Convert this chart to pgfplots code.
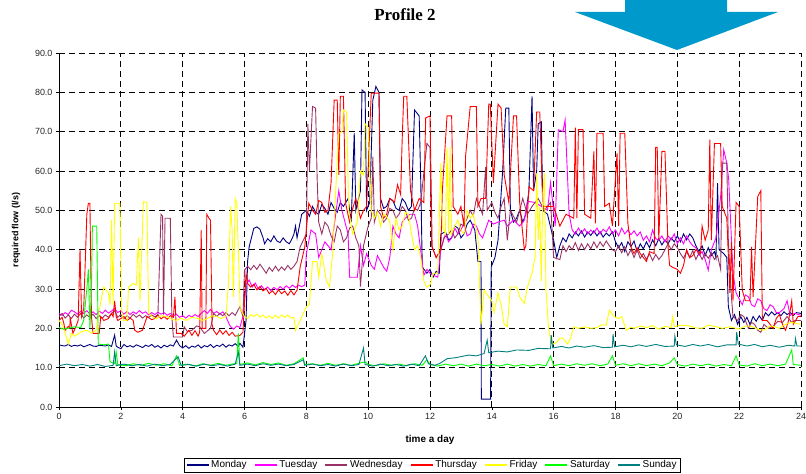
\documentclass[border=0pt]{standalone}
\usepackage{fontspec}
\setmainfont{Liberation Sans}
\newfontfamily\titlefont{Liberation Serif}
\usepackage{pgfplots}
\pgfplotsset{compat=1.18}
\definecolor{cMon}{RGB}{0,0,128}
\definecolor{cTue}{RGB}{255,0,255}
\definecolor{cWed}{RGB}{153,51,102}
\definecolor{cThu}{RGB}{255,0,0}
\definecolor{cFri}{RGB}{255,255,0}
\definecolor{cSat}{RGB}{0,255,0}
\definecolor{cSun}{RGB}{0,128,128}
\definecolor{arrowblue}{RGB}{0,153,204}
\pgfplotsset{
  daylegend/.style={legend image code/.code={\draw[draw=#1, line width=1.3pt] (0bp,0bp) -- (22bp,0bp);}},
}
\begin{document}
\begin{tikzpicture}
\path[use as bounding box] (0bp,0bp) rectangle (806bp,474bp);
\fill[arrowblue] (625bp,474bp) -- (625bp,462bp) -- (575bp,462bp) -- (677bp,424bp) -- (778bp,462bp) -- (727bp,462bp) -- (727bp,474bp) -- cycle;
\node[anchor=base,font=\titlefont\bfseries\fontsize{17}{20}\selectfont] at (405bp,453bp) {Profile 2};
\begin{axis}[
  at={(59bp,67bp)}, anchor=south west,
  width=742bp, height=354bp, scale only axis,
  xmin=0, xmax=24, ymin=0, ymax=90,
  xtick={0,2,...,24}, ytick={0,10,...,90},
  axis x line*=bottom, axis y line*=left,
  axis line style={-, black, line width=0.8pt},
  tick align=outside, major tick length=3bp,
  tick style={black, line width=0.6pt},
  grid=major,
  grid style={black, line width=0.7pt, dash pattern=on 6bp off 4bp},
  /pgf/number format/assume math mode=true,
  ticklabel style={font=\fontsize{9}{11}\selectfont, color=black!85},
  yticklabel style={/pgf/number format/.cd, fixed, fixed zerofill, precision=1},
  xticklabel style={/pgf/number format/.cd, fixed, precision=0},
  xlabel={time a day},
  ylabel={required flow (l/s)},
  xlabel style={font=\bfseries\fontsize{10}{12}\selectfont, at={(axis description cs:0.5,-0.093)}, anchor=center},
  ylabel style={font=\bfseries\fontsize{9}{11}\selectfont, at={(axis description cs:-0.058,0.5)}, anchor=center},
  legend columns=7,
  legend style={at={(axis description cs:0.503,-0.164)}, anchor=center,
    font=\fontsize{10}{12}\selectfont, inner xsep=2bp, inner ysep=1bp,
    /tikz/every even column/.append style={column sep=5.5bp}},
  every axis plot/.append style={line width=0.9pt},
]
% Monday
\addplot[color=cMon, daylegend=cMon] coordinates {(0,15.8) (0.1,15.6) (0.2,15.5) (0.3,15.9) (0.4,15.4) (0.5,15.7) (0.6,15.5) (0.7,15.8) (0.8,15.3) (0.9,15.6) (1.0,15.9) (1.1,15.5) (1.2,15.4) (1.3,15.7) (1.4,15.6) (1.5,15.5) (1.6,15.8) (1.7,15.4) (1.8,18.3) (1.85,15.5) (1.9,15.2) (2.0,14.8) (2.1,15.9) (2.2,15.3) (2.3,15.6) (2.4,15.2) (2.5,15.8) (2.6,15.5) (2.7,15.1) (2.8,15.7) (2.9,15.4) (3.0,15.9) (3.1,15.2) (3.2,15.6) (3.3,15.0) (3.4,15.7) (3.5,15.3) (3.6,15.8) (3.7,15.5) (3.8,17.0) (3.9,15.6) (4.0,15.0) (4.1,15.6) (4.2,14.9) (4.3,15.5) (4.4,15.2) (4.5,15.8) (4.6,15.0) (4.7,15.6) (4.8,15.3) (4.9,15.9) (5.0,15.1) (5.1,15.7) (5.2,15.4) (5.3,16.0) (5.4,15.2) (5.5,15.8) (5.6,15.5) (5.7,16.1) (5.8,15.4) (5.85,16.2) (5.95,15.2) (6.05,22) (6.1,37) (6.15,40.7) (6.3,45.4) (6.4,45.8) (6.5,45.2) (6.6,43) (6.65,41.5) (6.75,42.8) (6.85,42) (6.95,43.5) (7.05,42.2) (7.15,41.8) (7.25,43) (7.35,42) (7.45,41.5) (7.55,43) (7.6,44) (7.65,46) (7.7,43) (7.8,47) (7.85,49) (8.0,50) (8.1,48.5) (8.2,51) (8.3,49.5) (8.4,49) (8.5,51.5) (8.6,50.5) (8.7,49) (8.8,52) (8.9,50.5) (9.0,49.5) (9.1,52) (9.2,51) (9.35,53) (9.45,47) (9.55,69.6) (9.6,50) (9.75,55) (9.8,80.6) (9.9,80) (9.95,50) (10.05,52) (10.15,78) (10.25,81.5) (10.35,80) (10.4,53) (10.5,50.5) (10.6,51) (10.7,53) (10.8,52.5) (10.9,50.5) (11.0,50) (11.1,53) (11.2,52) (11.3,50) (11.4,51) (11.5,75.5) (11.65,74) (11.7,57.7) (11.75,35.6) (11.9,34) (12.0,35) (12.1,33) (12.2,34.5) (12.3,34) (12.35,44) (12.5,44.5) (12.6,42.5) (12.7,43) (12.8,46) (12.9,45.5) (13.0,43) (13.1,44) (13.2,46.5) (13.3,47.5) (13.45,45) (13.55,37) (13.65,37) (13.66,2) (13.96,2) (13.98,35.6) (14.1,38) (14.2,42.4) (14.35,60) (14.45,76) (14.55,76) (14.6,50) (14.7,47) (14.8,48) (14.9,50) (15.0,47) (15.1,49) (15.2,55) (15.3,79) (15.35,55) (15.45,60) (15.5,72) (15.6,72.5) (15.65,50) (15.8,49) (16.0,42.4) (16.1,38) (16.2,41) (16.3,43) (16.4,42) (16.5,44) (16.6,43) (16.7,44.5) (16.8,43.5) (16.9,44.8) (17.0,43.2) (17.1,44.5) (17.2,43.6) (17.3,44.8) (17.4,43.5) (17.5,44.6) (17.6,43.2) (17.7,44.2) (17.8,43.5) (17.9,44.5) (18.0,42) (18.1,40.5) (18.2,41.8) (18.3,39.5) (18.4,42) (18.5,40.8) (18.6,42.2) (18.7,39.5) (18.8,41.5) (18.9,40.2) (19.0,42) (19.1,40.5) (19.2,42.5) (19.3,41) (19.4,42.8) (19.5,41.2) (19.6,42.5) (19.7,41.5) (19.8,43) (19.9,42) (20.0,43.5) (20.1,42) (20.2,44) (20.3,42.5) (20.4,44) (20.5,43) (20.6,41) (20.7,39.5) (20.8,41) (20.9,38.5) (21.0,40.5) (21.1,38.5) (21.2,39.5) (21.25,38) (21.3,56.9) (21.35,40) (21.5,39) (21.6,38) (21.65,25.5) (21.75,22) (21.85,23.5) (21.95,21) (22.05,23) (22.15,21.5) (22.25,22.8) (22.35,21) (22.45,23) (22.55,21.8) (22.65,23.2) (22.75,22) (22.85,24) (22.95,23.2) (23.05,24.2) (23.15,23.4) (23.25,24) (23.35,23.2) (23.45,24.2) (23.55,23.5) (23.65,24) (23.75,23.3) (23.85,24) (24,23.8)};
\addlegendentry{Monday}
% Tuesday
\addplot[color=cTue, daylegend=cTue] coordinates {(0,23.8) (0.1,23.3) (0.2,24) (0.3,23.5) (0.4,24.6) (0.5,24.2) (0.6,23.6) (0.7,24.3) (0.8,23.8) (0.9,24.5) (1.0,23.6) (1.1,24.2) (1.2,23.5) (1.3,24.4) (1.4,23.8) (1.5,24.6) (1.6,23.9) (1.7,24.4) (1.8,25) (1.9,24) (2.0,24.5) (2.1,23.6) (2.2,24.3) (2.3,23.5) (2.4,24.2) (2.5,23.7) (2.6,24.5) (2.7,23.8) (2.8,24.2) (2.9,23.4) (3.0,24) (3.1,23.5) (3.2,24.1) (3.3,23.6) (3.4,24) (3.5,23.3) (3.6,23.8) (3.7,23.2) (3.8,23.6) (3.9,22.8) (4.0,23.2) (4.1,22.6) (4.2,23.3) (4.3,22.9) (4.4,23.5) (4.5,23) (4.6,23.8) (4.7,24.5) (4.8,23.8) (4.9,24.8) (5.0,23.8) (5.1,24.3) (5.2,23.6) (5.3,24.2) (5.4,23) (5.45,22) (5.55,20.4) (5.65,19.8) (5.75,20.6) (5.85,20.2) (5.95,23) (6.05,31) (6.15,32.3) (6.25,30.5) (6.35,31.5) (6.45,30) (6.55,30.8) (6.65,29.8) (6.75,30.5) (6.85,29.6) (6.95,30.4) (7.05,29.8) (7.15,30.6) (7.25,30) (7.35,30.8) (7.45,30.2) (7.55,31) (7.65,30.4) (7.75,31) (7.85,30.6) (7.95,31) (8.0,39) (8.15,45) (8.3,44) (8.4,38) (8.6,42) (8.8,40) (8.95,49) (9.05,55) (9.15,50) (9.35,44) (9.4,33) (9.65,33) (9.75,41) (9.85,36) (9.95,39) (10.0,38) (10.1,36) (10.2,35) (10.3,38.5) (10.4,37) (10.5,35.5) (10.6,34.5) (10.7,38) (10.8,46) (10.9,44) (11.0,43) (11.1,47) (11.2,48) (11.35,49) (11.5,49) (11.6,46) (11.8,33.5) (11.9,35) (12.0,34) (12.1,33.5) (12.25,33) (12.35,40) (12.5,44) (12.6,42) (12.7,43) (12.8,45.5) (12.9,44) (13.0,45) (13.1,46.7) (13.2,43.5) (13.3,44) (13.4,46.5) (13.5,46) (13.6,44) (13.7,43) (13.9,47.5) (14.05,46.5) (14.2,47) (14.4,47.5) (14.5,46) (14.7,47.5) (14.9,46) (15.05,47.5) (15.15,52.3) (15.4,52) (15.6,51) (15.8,50) (15.9,57) (16.05,46) (16.15,70.5) (16.3,70) (16.37,73) (16.5,49) (16.6,45) (16.7,44) (16.8,45.5) (16.9,44.2) (17.0,45.3) (17.1,44) (17.2,45) (17.3,44.2) (17.4,45.5) (17.5,44) (17.6,45.2) (17.7,44.5) (17.8,45.8) (17.9,44) (18.0,45) (18.1,43.5) (18.2,45.5) (18.3,44) (18.4,45) (18.5,43.8) (18.6,44.8) (18.7,43.5) (18.8,44.5) (18.9,42.4) (19.0,43.5) (19.1,42) (19.2,45) (19.3,42.8) (19.4,42.4) (19.5,43.5) (19.6,42) (19.7,43.5) (19.8,42.5) (19.9,44) (20.0,41.5) (20.1,43) (20.2,41.5) (20.3,43.5) (20.4,42) (20.5,41) (20.6,40.5) (20.7,38.5) (20.8,39.5) (20.9,37.5) (21.0,34.8) (21.1,40) (21.25,43) (21.4,53.5) (21.5,65.4) (21.6,62) (21.66,58) (21.8,34) (21.9,29) (22.0,27.5) (22.1,26) (22.2,28.5) (22.3,28) (22.4,26) (22.5,25.5) (22.6,27.5) (22.7,27) (22.8,25) (22.9,24.5) (23.0,26) (23.1,25.5) (23.2,24) (23.3,24) (23.45,25) (23.55,27) (23.65,23.3) (23.8,23.8) (24,23.3)};
\addlegendentry{Tuesday}
% Wednesday
\addplot[color=cWed, daylegend=cWed] coordinates {(0,23) (0.1,23.8) (0.2,22.6) (0.3,23.4) (0.4,22.5) (0.5,23.6) (0.6,22.8) (0.7,23.8) (0.8,22.6) (0.9,23.4) (1.0,22.8) (1.1,23.6) (1.2,22.5) (1.3,23.2) (1.4,22.6) (1.5,23.4) (1.6,22.8) (1.7,23.8) (1.8,24.5) (1.9,22.8) (2.0,23.5) (2.1,22.4) (2.2,23.2) (2.3,22.6) (2.4,23.6) (2.5,22.8) (2.6,23.4) (2.7,22.6) (2.8,23.2) (2.9,22.8) (3.0,23.4) (3.1,22.9) (3.2,23.5) (3.3,49) (3.35,48.5) (3.38,23.5) (3.43,48) (3.6,48) (3.65,23) (3.7,17.8) (4.0,17.8) (4.05,20.4) (4.15,19.2) (4.3,19.5) (4.45,20.6) (4.55,20.4) (4.7,18.7) (4.9,20) (5.0,23.8) (5.1,23) (5.2,23.8) (5.3,23.2) (5.4,24) (5.5,23.2) (5.6,24) (5.7,23.3) (5.85,25.5) (5.95,23) (6.0,34.8) (6.1,35.8) (6.2,34.9) (6.3,36) (6.4,35) (6.5,36.3) (6.6,35.2) (6.7,34) (6.8,35.5) (6.9,34.5) (7.0,35.8) (7.1,34.6) (7.2,35.6) (7.3,34.8) (7.4,36) (7.5,35) (7.6,35.8) (7.7,37) (7.8,40.7) (8.0,44) (8.05,72) (8.1,60) (8.2,76.4) (8.3,76) (8.35,58) (8.4,47) (8.5,44) (8.6,47) (8.7,46) (8.8,43.5) (8.9,42) (9.0,46) (9.1,45) (9.2,42) (9.3,43) (9.4,45.5) (9.5,46) (9.6,43) (9.7,41) (9.75,30.6) (9.85,41) (10.0,46) (10.1,48) (10.15,63.6) (10.2,47) (10.3,50) (10.4,49) (10.5,47) (10.6,48) (10.7,50.5) (10.8,50) (10.9,48) (11.0,49) (11.1,51) (11.2,50) (11.3,47.5) (11.4,48) (11.5,50.5) (11.6,50) (11.7,52) (11.9,67) (12.0,66) (12.05,41) (12.2,38) (12.35,40) (12.45,43) (12.6,44) (12.7,45) (12.8,43) (12.9,44) (13.0,46.5) (13.1,46) (13.2,48) (13.3,50) (13.4,48.5) (13.5,53) (13.6,51) (13.7,49) (13.8,61) (13.85,50) (14.0,52) (14.1,49.5) (14.2,48) (14.3,51) (14.4,53) (14.5,42.4) (14.6,50) (14.7,48.5) (14.8,47) (14.9,50) (15.0,53) (15.15,49) (15.3,51) (15.5,53) (15.7,50) (15.9,52) (16.0,38) (16.2,37.5) (16.3,41) (16.4,39.5) (16.5,41) (16.6,40) (16.7,41.8) (16.8,39.8) (16.9,41.5) (17.0,40) (17.1,41.5) (17.2,40.2) (17.3,42) (17.4,40.5) (17.5,42) (17.6,40.8) (17.7,42.2) (17.8,41) (17.9,40) (18.0,39.5) (18.1,41) (18.2,39.2) (18.3,40.8) (18.4,38.5) (18.5,40) (18.6,38) (18.7,40) (18.8,37.8) (18.9,39) (19.0,37.5) (19.1,39) (19.2,37.2) (19.3,38.8) (19.4,37.5) (19.5,38.5) (19.6,40) (19.7,41.5) (19.8,40) (19.9,41.5) (20.0,40.5) (20.1,39) (20.2,37.8) (20.3,39.5) (20.4,38) (20.5,39.8) (20.6,37.5) (20.7,39.2) (20.8,37.5) (20.9,39) (21.0,37.8) (21.1,39.2) (21.2,37.5) (21.3,38.5) (21.4,35) (21.45,62) (21.6,62) (21.65,42) (21.75,28) (21.8,23) (21.95,22) (22.05,23.5) (22.15,23) (22.3,20) (22.4,21.5) (22.5,21) (22.6,19.5) (22.7,19) (22.8,21) (22.95,20) (23.1,20.5) (23.25,21.8) (23.4,21.5) (23.55,23) (23.7,21.5) (23.8,22) (24,22)};
\addlegendentry{Wednesday}
% Thursday
\addplot[color=cThu, daylegend=cThu] coordinates {(0,22) (0.1,22.8) (0.15,21.5) (0.2,19.5) (0.3,20.5) (0.35,20) (0.36,22.8) (0.45,18.7) (0.55,20.5) (0.62,22) (0.68,40) (0.73,23) (0.8,25) (0.9,49) (0.95,51.8) (1.0,51.8) (1.05,23) (1.1,18.7) (1.3,18.7) (1.35,23) (1.45,22) (1.6,22.5) (1.7,23.8) (1.75,23) (1.8,27) (1.85,23) (1.9,22) (2.0,22.5) (2.1,23) (2.2,22) (2.3,22.6) (2.4,22) (2.45,19.5) (2.55,19) (2.7,19.5) (2.85,23) (3.0,22.2) (3.1,22.5) (3.2,23.4) (3.3,22.4) (3.4,23) (3.5,22.3) (3.6,23.2) (3.7,22.8) (3.75,28) (3.8,18.7) (3.95,18.7) (4.05,18) (4.2,19.5) (4.3,18.2) (4.4,19.4) (4.5,18) (4.55,19) (4.6,45) (4.63,20) (4.75,20) (4.78,49) (4.85,48) (4.9,47.5) (4.95,21) (5.0,19.5) (5.1,18.4) (5.2,19.6) (5.3,18.5) (5.4,19.4) (5.5,18.2) (5.6,19) (5.7,18) (5.85,18.2) (5.95,19) (6.05,34) (6.1,31.4) (6.2,30.5) (6.3,31.2) (6.4,29.8) (6.5,30.6) (6.6,29.5) (6.7,30.2) (6.8,28.8) (6.9,29.6) (7.0,28.6) (7.1,29.8) (7.2,28.8) (7.3,29.5) (7.4,28.4) (7.5,29.6) (7.6,28.5) (7.7,29.7) (7.8,35.6) (7.95,40.7) (8.08,51.8) (8.2,50) (8.3,49) (8.4,52.5) (8.5,52) (8.6,49.5) (8.7,50) (8.8,57) (8.9,78) (9.0,78) (9.05,59) (9.1,79) (9.2,79) (9.27,51.8) (9.4,47) (9.5,50.5) (9.6,53) (9.75,48) (9.85,50) (9.95,51) (10.1,79.8) (10.35,79.8) (10.4,51) (10.5,48) (10.6,49) (10.7,53) (10.85,52) (10.95,56.5) (11.05,54) (11.1,68) (11.15,79) (11.25,79) (11.37,55) (11.5,50) (11.65,53) (11.8,52) (11.86,73.5) (12.0,74) (12.07,40.7) (12.2,38) (12.35,40) (12.4,55) (12.55,74) (12.7,74) (12.75,51) (12.9,49) (13.0,51) (13.1,46) (13.15,63.7) (13.3,76.4) (13.5,76.4) (13.55,51) (13.65,53) (13.8,53) (13.9,77) (13.95,77) (14.05,57) (14.2,77) (14.3,76) (14.4,59) (14.55,52) (14.7,74) (14.8,74) (14.9,52) (15.05,40) (15.1,41) (15.2,56) (15.35,55) (15.45,75) (15.55,75) (15.65,51) (15.9,51) (16.0,51) (16.2,46) (16.4,49) (16.65,48) (16.7,71) (16.75,48) (16.8,70.5) (16.95,70.5) (17.0,49) (17.2,48) (17.3,65) (17.35,46.7) (17.4,69.6) (17.6,69.6) (17.65,51) (17.8,51.8) (17.9,46) (18.05,64.5) (18.1,46) (18.15,69.6) (18.3,69.6) (18.4,46.7) (18.5,40.7) (18.6,39) (18.7,40.5) (18.8,39) (18.9,38) (19.0,37) (19.1,39.5) (19.25,39) (19.3,66) (19.35,66) (19.4,42.4) (19.5,65) (19.6,65) (19.7,40.7) (19.75,36) (19.85,35.5) (20.0,35) (20.1,34) (20.2,36) (20.3,40) (20.4,38) (20.5,38.5) (20.6,40) (20.75,39) (20.8,46) (20.9,42.4) (21.0,45) (21.05,68) (21.1,42.4) (21.2,67) (21.4,67) (21.45,51) (21.6,48) (21.7,29) (21.75,42) (21.8,27) (21.9,52) (22.0,51) (22.1,29.7) (22.2,27) (22.35,27) (22.4,40.7) (22.45,28) (22.6,53.5) (22.7,55) (22.75,22) (22.9,22) (23.0,21) (23.1,20) (23.2,22.5) (23.3,23.5) (23.4,21) (23.5,19.5) (23.6,22) (23.7,27) (23.75,21) (23.9,23) (24,23)};
\addlegendentry{Thursday}
% Friday
\addplot[color=cFri, daylegend=cFri] coordinates {(0,22) (0.1,21) (0.2,18.7) (0.3,16) (0.4,18.7) (0.5,18) (0.6,18.5) (0.75,19.2) (0.9,19.5) (1.05,18.8) (1.2,19.5) (1.3,24.6) (1.45,30.5) (1.6,29) (1.65,26) (1.7,47.5) (1.75,26) (1.8,51.8) (1.97,51.8) (2.02,25) (2.08,22) (2.2,22) (2.25,30.5) (2.4,31.4) (2.5,31) (2.57,43) (2.62,27) (2.73,52.2) (2.84,52) (2.9,24) (3.0,23) (3.15,22.4) (3.3,23.2) (3.5,23) (3.65,22.3) (3.8,22) (3.95,22.6) (4.1,22) (4.3,22.8) (4.5,22.5) (4.65,22) (4.8,22.5) (4.95,23.2) (5.1,23) (5.25,22.5) (5.4,23) (5.48,31.4) (5.55,51) (5.6,45) (5.64,28) (5.7,53) (5.75,52) (5.8,40) (5.86,25) (6.0,23) (6.1,22.5) (6.2,23.5) (6.3,23) (6.4,23.6) (6.5,22.8) (6.6,23.4) (6.7,22.6) (6.8,23.2) (6.9,22.5) (7.0,23.3) (7.1,22.6) (7.2,23.4) (7.3,22.8) (7.4,23.4) (7.5,22.6) (7.6,22.8) (7.65,19.5) (7.8,22) (8.0,25.5) (8.1,26) (8.2,37) (8.35,37) (8.4,33) (8.5,39) (8.65,32) (8.75,30.6) (8.85,39) (8.95,55) (9.05,69.6) (9.15,70) (9.2,75.5) (9.3,75) (9.37,50) (9.5,44) (9.65,47) (9.75,60) (9.85,59) (9.9,72) (10.0,71) (10.1,50) (10.2,48) (10.3,49.5) (10.4,46) (10.5,49) (10.6,48.5) (10.7,47) (10.8,40) (10.9,48) (11.0,45) (11.1,46) (11.2,49.5) (11.3,49) (11.4,44) (11.5,40) (11.6,41) (11.7,38) (11.8,32) (11.9,30.5) (12.0,31) (12.1,34) (12.25,34) (12.35,62) (12.4,46) (12.5,44) (12.55,66) (12.6,44) (12.65,66) (12.7,44) (12.8,46) (12.9,47.5) (13.0,45) (13.1,44) (13.2,50) (13.3,48) (13.4,49) (13.55,43) (13.65,21) (13.75,29.7) (13.9,28) (14.0,27) (14.07,24) (14.2,29) (14.3,26) (14.4,21) (14.5,20.4) (14.6,30.5) (14.8,30.5) (14.9,28) (15.05,26.3) (15.15,30.5) (15.3,34) (15.4,38.2) (15.45,59.4) (15.5,42.4) (15.55,51) (15.6,32) (15.65,54.3) (15.7,59.4) (15.75,30) (15.83,20.4) (15.9,17) (16.0,16) (16.1,16.5) (16.2,17.5) (16.3,17.5) (16.45,16) (16.55,17.5) (16.65,20.4) (16.8,20) (17.0,20.4) (17.2,20) (17.4,20.2) (17.55,20.9) (17.7,20.8) (17.8,24.6) (17.95,23) (18.1,22.5) (18.2,23) (18.35,19.5) (18.5,20.3) (18.6,20) (18.8,20.6) (19.0,20.2) (19.2,20.7) (19.4,19.8) (19.6,20.5) (19.8,20.2) (19.85,23) (19.9,20.4) (20.1,20.8) (20.4,20.6) (20.6,20.1) (20.8,20) (21.0,20.8) (21.2,20.5) (21.45,20) (21.7,20.4) (22.0,19.8) (22.2,20.6) (22.4,20.5) (22.6,19.8) (22.8,19.5) (23.0,20.6) (23.1,20.5) (23.3,20) (23.5,21) (23.7,21.5) (24,21)};
\addlegendentry{Friday}
% Saturday
\addplot[color=cSat, daylegend=cSat] coordinates {(0,20.2) (0.15,19.8) (0.3,20) (0.5,20.4) (0.7,20.2) (0.8,22) (0.9,30) (0.95,35) (1.0,20) (1.05,30) (1.08,46) (1.22,46) (1.27,16) (1.45,15.8) (1.6,16) (1.65,11.5) (1.8,11) (1.85,14) (1.9,10.8) (2.15,10.5) (2.4,11) (2.65,10.6) (2.9,11.1) (3.15,10.6) (3.4,11) (3.65,10.5) (3.8,13) (3.9,10.6) (4.15,10.9) (4.4,10.4) (4.65,11) (4.9,10.6) (5.15,11.1) (5.4,10.6) (5.65,11) (5.75,11) (5.8,18.7) (5.85,10.8) (6.1,11.2) (6.35,10.7) (6.6,11.3) (6.85,10.8) (7.1,11.2) (7.35,10.6) (7.6,11) (7.9,12.5) (7.95,10.8) (8.2,11) (8.45,10.6) (8.7,11.1) (8.95,10.6) (9.2,11) (9.45,10.6) (9.7,11.1) (9.9,11.5) (10.0,10.8) (10.25,10.5) (10.5,11) (10.75,10.6) (11.0,10.9) (11.25,10.5) (11.5,11) (11.75,10.6) (11.9,12) (12.0,10.8) (12.25,10.4) (12.5,10.9) (12.75,10.5) (13.0,10.9) (13.25,10.4) (13.5,10.9) (13.75,10.5) (14.0,10.8) (14.25,10.4) (14.5,10.9) (14.75,10.4) (15.0,10.8) (15.25,10.4) (15.5,10.8) (15.75,10.5) (15.9,13) (16.0,10.5) (16.25,10.9) (16.5,10.5) (16.75,11) (17.0,10.6) (17.25,11) (17.5,10.5) (17.75,10.9) (17.9,13) (18.0,10.6) (18.25,11) (18.5,10.5) (18.75,11) (19.0,10.5) (19.25,10.9) (19.5,10.5) (19.75,11.2) (19.9,12.5) (20.0,10.8) (20.25,10.4) (20.5,10.9) (20.75,10.5) (21.0,10.9) (21.25,10.4) (21.5,10.8) (21.75,10.5) (21.9,13) (22.0,10.7) (22.25,10.4) (22.5,11) (22.75,10.5) (23.0,10.9) (23.25,10.5) (23.5,10.9) (23.7,14.5) (23.75,10.8) (24,10.6)};
\addlegendentry{Saturday}
% Sunday
\addplot[color=cSun, daylegend=cSun] coordinates {(0,10.5) (0.25,10.9) (0.5,10.5) (0.75,10.8) (1.0,10.4) (1.25,10.8) (1.5,10.3) (1.75,10.6) (1.8,14) (1.85,10.5) (2.1,10.9) (2.35,10.5) (2.6,10.8) (2.85,10.4) (3.1,10.9) (3.35,10.5) (3.6,10.8) (3.85,12.8) (3.95,10.6) (4.2,10.8) (4.45,10.4) (4.7,10.9) (4.95,10.5) (5.2,10.8) (5.45,10.4) (5.7,10.9) (5.8,14) (5.85,10.6) (6.1,10.9) (6.35,10.5) (6.6,11) (6.85,10.6) (7.1,10.9) (7.35,10.5) (7.6,10.8) (7.9,12) (7.95,10.6) (8.2,10.9) (8.45,10.5) (8.7,10.8) (8.95,10.4) (9.2,10.9) (9.45,10.5) (9.7,10.8) (9.85,15) (9.9,10.8) (10.15,10.4) (10.4,10.9) (10.65,10.5) (10.9,10.8) (11.15,10.4) (11.4,10.9) (11.65,10.5) (11.85,13) (11.95,11) (12.15,10.6) (12.3,11) (12.56,12.3) (12.8,12.5) (13.0,12.8) (13.25,13.2) (13.5,13) (13.75,13.6) (13.85,17) (13.9,13.8) (14.2,14.2) (14.5,14) (14.8,14.5) (15.2,14.4) (15.5,14.9) (15.9,14.8) (15.92,18.3) (15.97,15) (16.25,15.4) (16.5,15) (16.75,15.5) (17.0,15.2) (17.3,15.6) (17.6,15.1) (17.9,15.2) (17.92,18.5) (17.97,15.3) (18.25,15.7) (18.5,15.3) (18.75,15.8) (19.0,15.4) (19.3,15.9) (19.6,15.4) (19.9,15.5) (19.92,18) (19.97,15.8) (20.25,15.4) (20.5,15.9) (20.75,15.5) (21.0,15.9) (21.3,15.3) (21.6,15.8) (21.9,15.8) (21.92,19) (21.97,16) (22.25,15.5) (22.5,15.9) (22.75,15.3) (23.0,15.7) (23.3,15.2) (23.6,15.7) (23.8,15.5) (23.82,17.4) (23.87,15.5) (24,15.5)};
\addlegendentry{Sunday}
\end{axis}
\end{tikzpicture}
\end{document}
